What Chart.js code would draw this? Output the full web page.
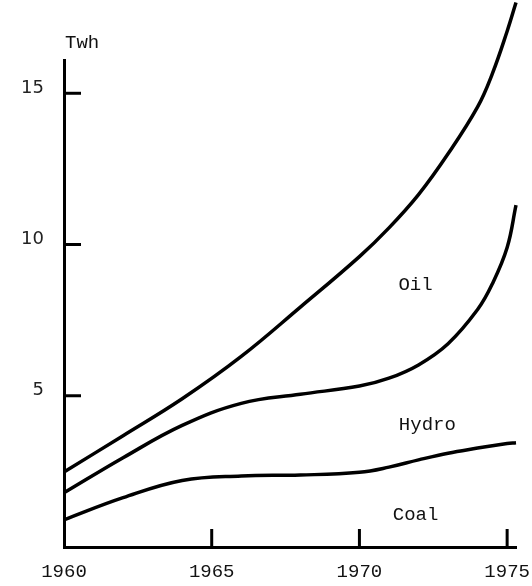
<!DOCTYPE html>
<html>
<head>
<meta charset="utf-8">
<script src="https://cdn.jsdelivr.net/npm/chart.js@4.4.1/dist/chart.umd.min.js"></script>
<style>
  html, body { margin: 0; padding: 0; background: #fff; }
  canvas { display: block; }
</style>
</head>
<body>
<canvas id="energyChart" width="532" height="586"></canvas>
<script>
// electricity production, Twh (each line is the top of its band)
var years = [1960, 1962, 1964, 1966, 1968, 1970, 1971, 1972, 1973, 1974, 1974.5, 1975, 1975.3];
var coalLine  = [0.9, 1.63, 2.2, 2.35, 2.38, 2.47, 2.64, 2.88, 3.1, 3.27, 3.35, 3.42, 3.45];
var hydroLine = [1.79, 2.95, 4.02, 4.75, 5.05, 5.32, 5.58, 6.02, 6.72, 7.85, 8.7, 9.9, 11.3];
var oilLine   = [2.48, 3.68, 4.9, 6.3, 7.93, 9.6, 10.55, 11.65, 13.0, 14.55, 15.65, 17.05, 18.0];
var bandNames = ['Oil', 'Hydro', 'Coal'];
var unitLabel = 'Twh';

function points(vals) {
  return vals.map(function (v, i) { return { x: years[i], y: v }; });
}

function lineSet(vals) {
  return {
    data: points(vals),
    borderColor: '#000',
    borderWidth: 3.5,
    pointRadius: 0,
    fill: false,
    tension: 0.4,
    clip: false
  };
}

// where the band names sit, in chart units
var bandAnchors = {
  Oil:   { x: 1971.9, y: 8.65 },
  Hydro: { x: 1972.3, y: 4.05 },
  Coal:  { x: 1971.9, y: 1.05 }
};

var decorPlugin = {
  id: 'decor',
  afterDraw: function (chart) {
    var ctx = chart.ctx;
    var xs = chart.scales.x, ys = chart.scales.y;
    ctx.save();
    ctx.strokeStyle = '#000';
    ctx.lineWidth = 3;
    // tick marks point into the plot
    ys.ticks.forEach(function (t) {
      if (t.value === 0) return;
      var py = ys.getPixelForValue(t.value);
      ctx.beginPath();
      ctx.moveTo(xs.left, py);
      ctx.lineTo(xs.left + 17, py);
      ctx.stroke();
    });
    xs.ticks.forEach(function (t) {
      if (t.value === 1960) return;
      var px = xs.getPixelForValue(t.value);
      ctx.beginPath();
      ctx.moveTo(px, ys.bottom);
      ctx.lineTo(px, ys.bottom - 18);
      ctx.stroke();
    });

    ctx.fillStyle = '#111';
    ctx.font = '19px "Liberation Mono"';
    ctx.textAlign = 'center';
    ctx.textBaseline = 'middle';
    bandNames.forEach(function (name) {
      var a = bandAnchors[name];
      ctx.fillText(name, xs.getPixelForValue(a.x), ys.getPixelForValue(a.y));
    });
    ctx.textAlign = 'left';
    ctx.fillText(unitLabel, xs.left + 1, ys.getPixelForValue(16.66));
    ctx.restore();
  }
};

new Chart(document.getElementById('energyChart'), {
  type: 'line',
  data: {
    datasets: [lineSet(oilLine), lineSet(hydroLine), lineSet(coalLine)]
  },
  options: {
    responsive: false,
    animation: false,
    layout: { padding: { left: 0, top: 60, right: 16, bottom: 0 } },
    plugins: { legend: { display: false }, tooltip: { enabled: false } },
    scales: {
      x: {
        type: 'linear',
        min: 1960,
        max: 1975.3,
        afterFit: function (s) {
          s.height = 39;
          s.paddingLeft = 0;
          s.paddingRight = 0;
        },
        grid: { display: false },
        border: { display: true, color: '#000', width: 3 },
        ticks: {
          stepSize: 5,
          includeBounds: false,
          padding: 6,
          color: '#111',
          font: { family: '"Liberation Mono"', size: 19 },
          callback: function (v) { return String(v); }
        }
      },
      y: {
        type: 'linear',
        min: 0,
        max: 16.1,
        afterFit: function (s) { s.width = 64; },
        grid: { display: false },
        border: { display: true, color: '#000', width: 3 },
        ticks: {
          stepSize: 5,
          includeBounds: false,
          padding: 12,
          labelOffset: -5,
          color: '#222',
          font: { family: '"DejaVu Sans"', size: 18 },
          callback: function (v) { return v === 0 ? null : String(v); }
        }
      }
    }
  },
  plugins: [decorPlugin]
});
</script>
</body>
</html>
